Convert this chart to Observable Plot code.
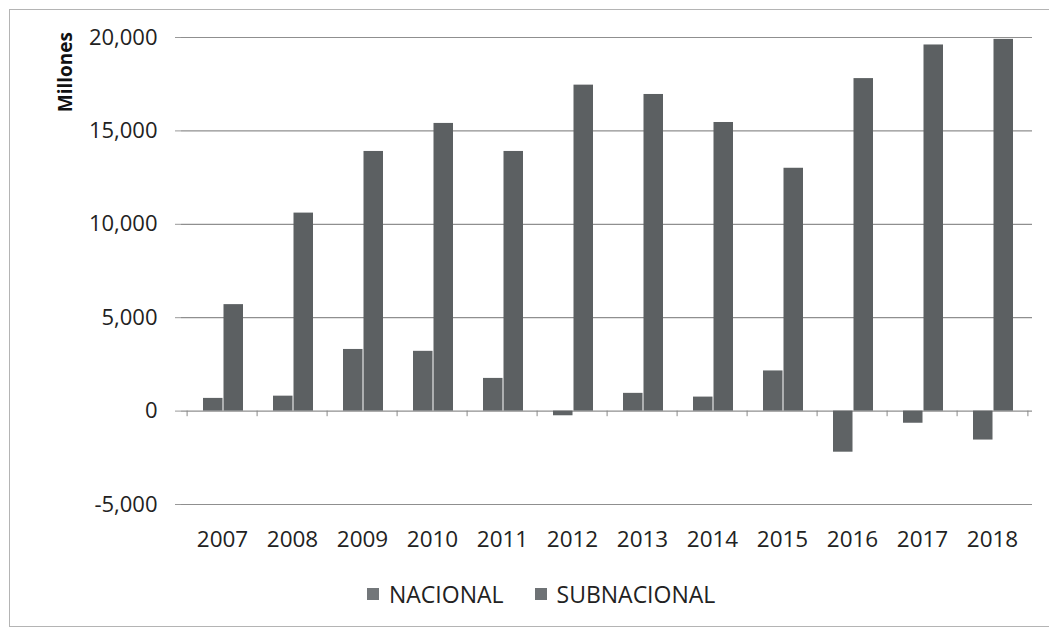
<!DOCTYPE html>
<html>
<head>
<meta charset="utf-8">
<script src="https://cdn.jsdelivr.net/npm/d3@7"></script>
<script src="https://cdn.jsdelivr.net/npm/@observablehq/plot@0.6"></script>
<style>
  html, body { margin: 0; padding: 0; background: #fff; }
  body { width: 1049px; height: 632px; overflow: hidden; position: relative; font-family: "Open Sans", sans-serif; }
  #frame { position: absolute; left: 9px; top: 9px; width: 1100px; height: 618px; border: 1.5px solid #b4b4b4; box-sizing: border-box; }
  #chart { position: absolute; left: 0; top: 0; }
  #legend { position: absolute; top: 578px; left: 367px; display: flex; align-items: center; font-size: 23px; color: #222; }
  #legend .item { display: flex; align-items: center; margin-right: 31px; }
  #legend .sw { width: 12px; height: 12px; margin-right: 10px; }
</style>
</head>
<body>
<div id="frame"></div>
<div id="chart"></div>
<div id="legend"></div>
<script>
const years = ["2007","2008","2009","2010","2011","2012","2013","2014","2015","2016","2017","2018"];
const nacional = [680, 800, 3300, 3200, 1750, -250, 950, 750, 2150, -2200, -650, -1550];
const subnacional = [5700, 10600, 13900, 15400, 13900, 17450, 16950, 15450, 13000, 17800, 19600, 19900];
const series = ["NACIONAL", "SUBNACIONAL"];
const yTicks = [-5000, 0, 5000, 10000, 15000, 20000];
const colors = ["#5f6365", "#5c6062"];

const dataN = years.map((y, i) => ({year: y, value: nacional[i], serie: series[0]}));
const dataS = years.map((y, i) => ({year: y, value: subnacional[i], serie: series[1]}));
const fmt = d => d3.format(",")(d).replace("\u2212", "-");

const chart = Plot.plot({
  width: 1049,
  height: 564,
  marginLeft: 181,
  marginRight: 17,
  marginTop: 37,
  marginBottom: 60,
  style: {fontFamily: "'Open Sans', sans-serif", fontSize: "22px", color: "#222", background: "transparent"},
  x: {domain: years, padding: 0, label: null},
  y: {domain: [-5000, 20000], label: null},
  marks: [
    Plot.ruleY(yTicks, {stroke: "#8f8f8f", strokeWidth: 1.2}),
    Plot.ruleX([0], {frameAnchor: "left", stroke: "#b0b0b0"}),
    Plot.ruleX(years, {x: d => d, dx: -35.4, y1: 0, y2: -300, stroke: "#888"}),
    Plot.ruleX(years.slice(-1), {x: d => d, dx: 35.4, y1: 0, y2: -300, stroke: "#888"}),
    Plot.barY(dataN, {x: "year", y: "value", fill: colors[0], insetLeft: 16, insetRight: 34.5}),
    Plot.barY(dataS, {x: "year", y: "value", fill: colors[1], insetLeft: 36.5, insetRight: 14}),
    Plot.axisY({ticks: yTicks, tickFormat: fmt, tickSize: 6, tickPadding: 18, stroke: "#999", fontSize: 22, label: null}),
    Plot.axisX({tickSize: 0, tickPadding: 27, fontSize: 22.5, label: null}),
    Plot.text(["Millones"], {frameAnchor: "left", dx: -116, y: 16000, rotate: -90, fontWeight: "bold", fontSize: 19, fill: "#111"})
  ]
});
document.getElementById("chart").appendChild(chart);

const legend = document.getElementById("legend");
series.forEach((s, i) => {
  const item = document.createElement("div");
  item.className = "item";
  const sw = document.createElement("span");
  sw.className = "sw";
  sw.style.background = i === 0 ? "#73777a" : "#6e7275";
  const t = document.createElement("span");
  t.textContent = s;
  item.appendChild(sw);
  item.appendChild(t);
  legend.appendChild(item);
});
</script>
</body>
</html>
